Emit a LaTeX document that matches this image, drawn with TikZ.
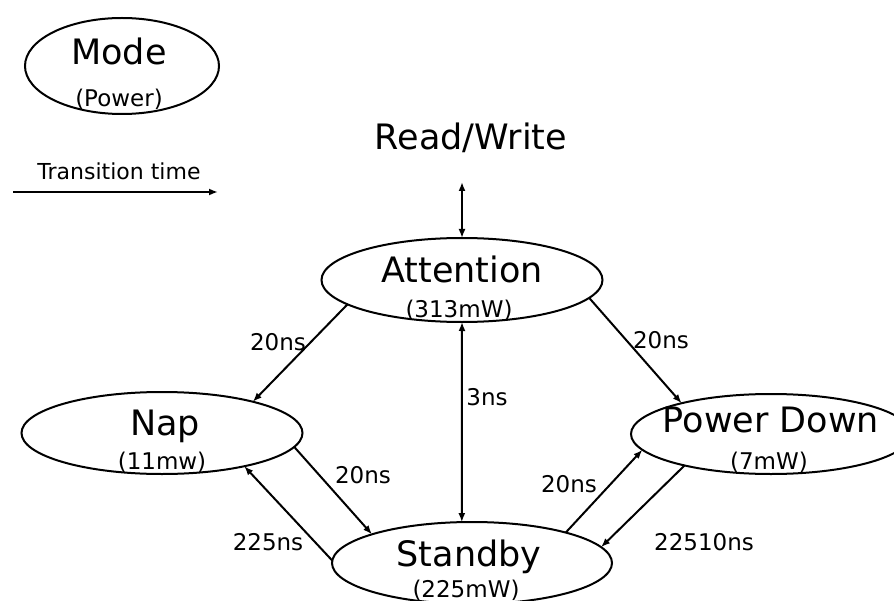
\documentclass[tikz,border=0pt]{standalone}
\usepackage{fontspec}
\setmainfont{DejaVu Sans}
\usetikzlibrary{arrows.meta,shapes.geometric}
\begin{document}
\begin{tikzpicture}[x=1bp,y=-1bp,
  state/.style={draw, ellipse, line width=2bp, inner sep=0pt, outer sep=0pt},
  title/.style={anchor=base, inner sep=0pt, font=\fontsize{35bp}{40bp}\selectfont},
  power/.style={anchor=base, inner sep=0pt, font=\fontsize{23bp}{27bp}\selectfont},
  tlabel/.style={anchor=base, inner sep=0pt, font=\fontsize{23bp}{27bp}\selectfont},
  trans/.style={line width=2bp, -{Latex[length=9bp,width=7bp]}},
  both/.style={line width=2bp, {Latex[length=9bp,width=7bp]}-{Latex[length=9bp,width=7bp]}}
]
\useasboundingbox (0,0) rectangle (894,601);
\fill[white] (0,0) rectangle (894,601);
\clip (0,0) rectangle (894,601);

% legend
\node[state, minimum width=194bp, minimum height=96bp] (mode) at (122,66) {};
\node[title] (modet) at (119,65) {Mode};
\node[power] (modep) at (119,107) {(Power)};
\node[tlabel, font=\fontsize{22bp}{26bp}\selectfont] (ttl) at (119,180) {Transition time};
\coordinate (ttstart) at (13,192);
\coordinate (ttend) at (218,192);
\draw[trans] (ttstart) -- (ttend);

% states
\node[state, minimum width=281bp, minimum height=84bp] (att) at (462,280) {};
\node[state, minimum width=281bp, minimum height=82bp] (nap) at (162,433) {};
\node[state, minimum width=280bp, minimum height=82bp] (stb) at (472,563) {};
\node[state, minimum width=280bp, minimum height=80bp] (pd)  at (771,434) {};

\node[title] (rw) at (471,150) {Read/Write};
\node[title] (attt) at (462,282) {Attention};
\node[power] (attp) at (459,317) {(313mW)};
\node[title] (napt) at (165,435) {Nap};
\node[power] (napp) at (162,469) {(11mw)};
\node[title] (pdt) at (771,432) {Power Down};
\node[power] (pdp) at (769,469) {(7mW)};
\node[title] (stbt) at (469,566) {Standby};
\node[power] (stbp) at (466,597) {(225mW)};

% transitions
\coordinate (rwtip) at (462,182);
\draw[both] (rwtip) -- (att.90);
\draw[trans] (att.-168) -- (nap.19);
\draw[trans] (att.-8) -- (pd.161);
\draw[both] (att.-90) -- (stb.104);
\draw[trans] (nap.-6) -- (stb.164);
\draw[trans] (stb.179) -- (nap.-22);
\draw[trans] (stb.18) -- (pd.-173);
\draw[trans] (pd.-160) -- (stb.7);

% transition times
\node[tlabel] (l1) at (278,350) {20ns};
\node[tlabel] (l2) at (661,348) {20ns};
\node[tlabel] (l3) at (487,405) {3ns};
\node[tlabel] (l4) at (363,483) {20ns};
\node[tlabel] (l5) at (268,550) {225ns};
\node[tlabel] (l6) at (569,492) {20ns};
\node[tlabel] (l7) at (704,550) {22510ns};
\end{tikzpicture}
\end{document}
